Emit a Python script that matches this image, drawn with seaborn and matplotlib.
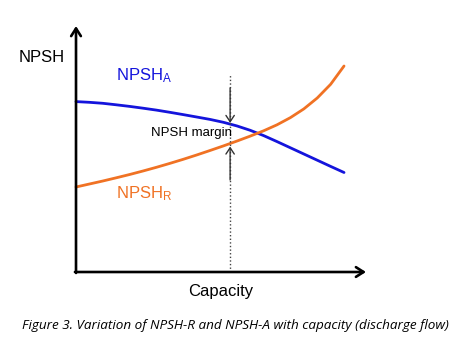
import matplotlib
matplotlib.use("Agg")
import matplotlib.pyplot as plt
import seaborn as sns
import pandas as pd

# Pump curves: capacity (discharge flow) vs. net positive suction head
capacity = [0, 5, 10, 15, 20, 25, 30, 35, 40, 45, 50,
            55, 60, 65, 70, 75, 80, 85, 90, 95, 100]
npsh_available = [69.27, 68.98, 68.58, 67.97, 67.32, 66.59, 65.81, 64.92, 63.98, 63.01, 62.03,
                  60.85, 59.39, 57.60, 55.45, 53.01, 50.49, 47.97, 45.45, 42.93, 40.45]
npsh_required = [34.55, 35.77, 36.99, 38.29, 39.63, 41.06, 42.56, 44.15, 45.81, 47.56, 49.39,
                 51.26, 53.21, 55.24, 57.40, 59.84, 62.76, 66.30, 70.73, 76.30, 83.74]
operating_capacity = 57.5
margin_top = 60.6
margin_bottom = 51.0

sns.set_style("white")
plt.rcParams["font.family"] = ["Liberation Sans", "DejaVu Sans"]
plt.rcParams["text.color"] = "black"
plt.rcParams["mathtext.fontset"] = "custom"
plt.rcParams["mathtext.rm"] = "Liberation Sans"
plt.rcParams["mathtext.it"] = "Liberation Sans"

df = pd.DataFrame({
    "capacity": capacity * 2,
    "npsh": npsh_available + npsh_required,
    "curve": ["A"] * len(capacity) + ["R"] * len(capacity),
})

fig = plt.figure(figsize=(4.7, 3.49), dpi=100)
ax = fig.add_axes([0, 0, 1, 1])
ax.set_xlim(-28.36, 147.0)
ax.set_ylim(-31.3, 110.57)
ax.axis("off")

blue = "#1414dc"
orange = "#f07224"
sns.lineplot(data=df, x="capacity", y="npsh", hue="curve",
             palette={"A": blue, "R": orange}, linewidth=2.0,
             legend=False, ax=ax)

# Coordinate axes with open arrowheads
axis_style = dict(arrowstyle="->,head_length=0.55,head_width=0.35",
                  lw=1.9, color="black", shrinkA=0, shrinkB=0)
ax.annotate("", xy=(0, 100), xytext=(0, -0.4), arrowprops=axis_style)
ax.annotate("", xy=(108.2, 0), xytext=(-0.4, 0), arrowprops=axis_style)

# Operating point and the margin between the curves
ax.vlines(operating_capacity, 0, 80, colors="#444444", linestyles=(0, (1, 1.6)), lw=1.0)
margin_style = dict(arrowstyle="->,head_length=0.45,head_width=0.3",
                    lw=1.0, color="#333333", shrinkA=0, shrinkB=0)
ax.annotate("", xy=(operating_capacity, margin_top),
            xytext=(operating_capacity, 74.8), arrowprops=margin_style)
ax.annotate("", xy=(operating_capacity, margin_bottom),
            xytext=(operating_capacity, 37.4), arrowprops=margin_style)

ax.text(-21.3, 85.4, "NPSH", fontsize=12, va="baseline", ha="left")
ax.text(14.9, 78.0, r"NPSH$_\mathregular{A}$", fontsize=12, color=blue,
        va="baseline", ha="left")
ax.text(14.9, 30.1, r"NPSH$_\mathregular{R}$", fontsize=12, color=orange,
        va="baseline", ha="left")
ax.text(28.0, 55.3, "NPSH margin", fontsize=9.5, va="baseline", ha="left")
ax.text(53.9, -9.76, "Capacity", fontsize=12, va="baseline", ha="center")
ax.text(59.5, -23.2,
        "Figure 3. Variation of NPSH-R and NPSH-A with capacity (discharge flow)",
        fontsize=9.7, style="italic", family=["Open Sans", "DejaVu Sans"],
        va="baseline", ha="center")

fig.savefig("out.png", dpi=100)
